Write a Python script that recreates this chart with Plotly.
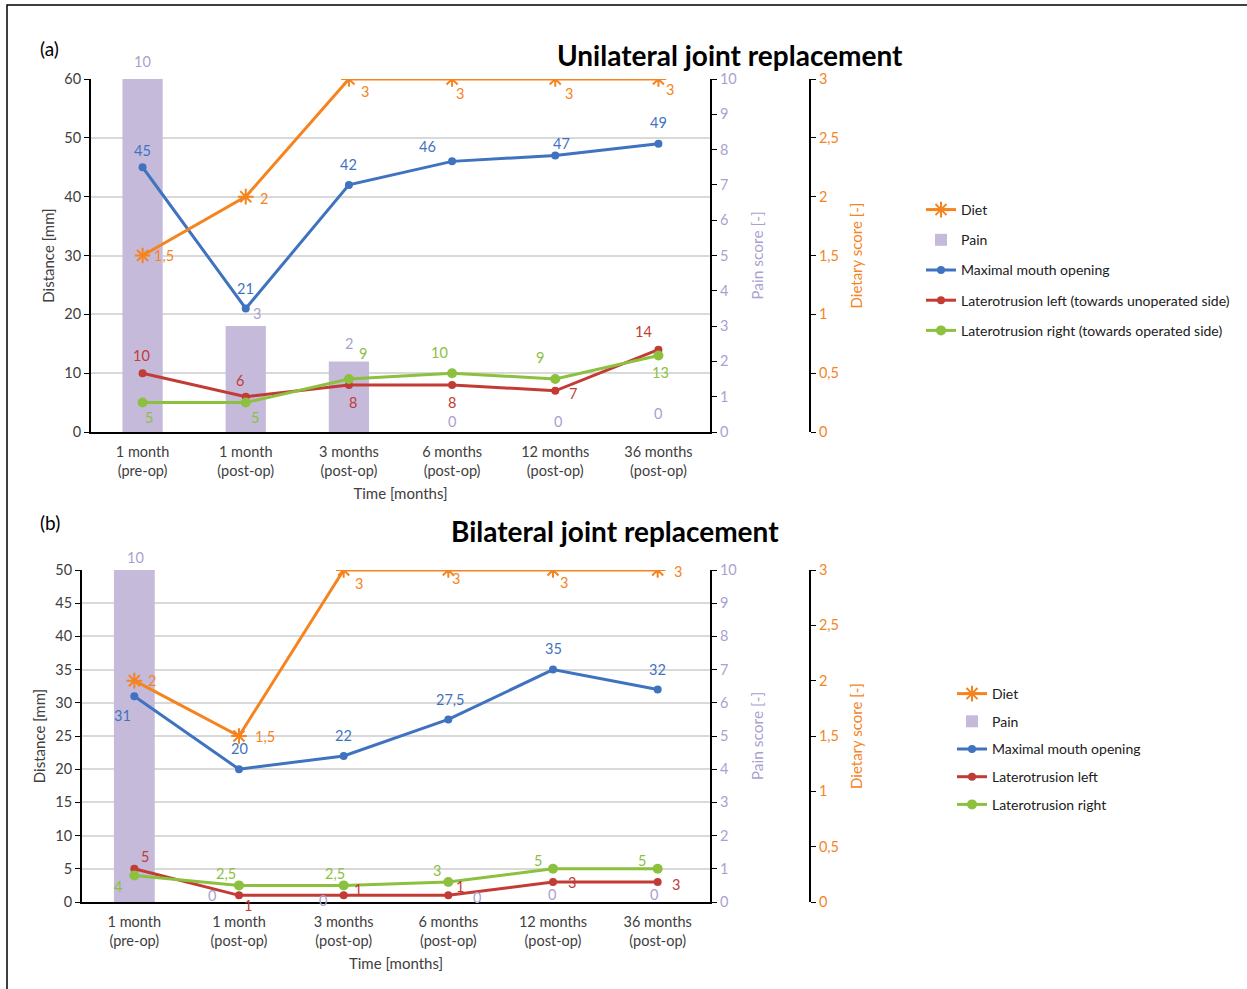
import plotly.graph_objects as go

W, H = 1247, 989

categories = ["1 month<br>(pre-op)", "1 month<br>(post-op)", "3 months<br>(post-op)",
              "6 months<br>(post-op)", "12 months<br>(post-op)", "36 months<br>(post-op)"]

# Panel (a) Unilateral
a_diet = [1.5, 2, 3, 3, 3, 3]
a_pain = [10, 3, 2, 0, 0, 0]
a_mmo = [45, 21, 42, 46, 47, 49]
a_left = [10, 6, 8, 8, 7, 14]
a_right = [5, 5, 9, 10, 9, 13]

# Panel (b) Bilateral
b_diet = [2, 1.5, 3, 3, 3, 3]
b_pain = [10, 0, 0, 0, 0, 0]
b_mmo = [31, 20, 22, 27.5, 35, 32]
b_left = [5, 1, 1, 1, 3, 3]
b_right = [4, 2.5, 2.5, 3, 5, 5]

a_names = ["Diet", "Pain", "Maximal mouth opening",
           "Laterotrusion left (towards unoperated side)",
           "Laterotrusion right (towards operated side)"]
b_names = ["Diet", "Pain", "Maximal mouth opening", "Laterotrusion left", "Laterotrusion right"]

ORANGE = "#f5841f"
PURPLE = "#c6badb"
PURPLE_TXT = "#ab9fd0"
BLUE = "#3f73c0"
RED = "#c23b35"
GREEN = "#8cc03f"
GREY = "#404040"
FONT = "Lato"
TICK = 14.5
LBL = 14.5
TTL = 15

# label offsets (pixels: dx, dy up)
a_off = {
    "diet": [(21, 0), (18, -2), (16, -13), (8, -15), (14, -15), (12, -11)],
    "pain": [(0, 17), (11, 13), (0, 18), (0, 11), (3, 11), (0, 19)],
    "mmo": [(0, 17), (0, 20), (0, 20), (-25, 15), (6, 12), (0, 21)],
    "left": [(-1, 18), (-6, 16), (4, -18), (0, -18), (18, -3), (-15, 18)],
    "right": [(6, -15), (9, -15), (14, 26), (-13, 21), (-15, 22), (2, -17)],
}
b_off = {
    "diet": [(18, 0), (26, 0), (15, -13), (8, -8), (11, -12), (20, -1)],
    "pain": [(1, 13), (-27, 7), (-21, 2), (29, 5), (-1, 8), (-4, 8)],
    "mmo": [(-12, -19), (0, 21), (0, 20), (2, 20), (0, 21), (0, 20)],
    "left": [(11, 12), (9, -10), (14, 6), (12, 9), (19, 0), (18, -2)],
    "right": [(-16, -11), (-13, 12), (-9, 12), (-11, 12), (-15, 8), (-16, 8)],
}


def px(x):
    return x / W


def py(y):
    return 1 - y / H


fig = go.Figure()
annotations = []


def fmt(v):
    s = ("%g" % v)
    return s.replace(".", ",")


def panel(idx, diet, pain, mmo, left, right, names, off, xdom, ydom, dist_max, dist_dtick, legend_id):
    xa = "x" if idx == 0 else "x2"
    yp = "y" if idx == 0 else "y4"
    yd = "y2" if idx == 0 else "y5"
    yt = "y3" if idx == 0 else "y6"
    lg = legend_id
    fig.add_trace(go.Bar(x=categories, y=pain, xaxis=xa, yaxis=yp, name=names[1],
                         marker=dict(color=PURPLE, line=dict(width=0)), width=0.39,
                         legend=lg, legendgroup=lg + "p", legendrank=2))
    fig.add_trace(go.Scatter(x=categories, y=mmo, xaxis=xa, yaxis=yd, name=names[2],
                             mode="lines+markers", line=dict(color=BLUE, width=3),
                             marker=dict(size=8, color=BLUE), legend=lg,
                             legendgroup=lg + "m", legendrank=3))
    fig.add_trace(go.Scatter(x=categories, y=left, xaxis=xa, yaxis=yd, name=names[3],
                             mode="lines+markers", line=dict(color=RED, width=3),
                             marker=dict(size=8, color=RED), legend=lg,
                             legendgroup=lg + "l", legendrank=4))
    fig.add_trace(go.Scatter(x=categories, y=right, xaxis=xa, yaxis=yd, name=names[4],
                             mode="lines+markers", line=dict(color=GREEN, width=3),
                             marker=dict(size=10, color=GREEN), legend=lg,
                             legendgroup=lg + "r", legendrank=5))
    fig.add_trace(go.Scatter(x=categories, y=diet, xaxis=xa, yaxis=yt, name=names[0],
                             mode="lines+markers", line=dict(color=ORANGE, width=3),
                             marker=dict(size=13, color=ORANGE, symbol="asterisk-open",
                                         line=dict(color=ORANGE, width=2)),
                             legend=lg, legendgroup=lg + "d", legendrank=1))

    series = [("diet", diet, yt, ORANGE), ("pain", pain, yp, PURPLE_TXT), ("mmo", mmo, yd, BLUE),
              ("left", left, yd, RED), ("right", right, yd, GREEN)]
    for key, vals, yref, col in series:
        for i, v in enumerate(vals):
            dx, dy = off[key][i]
            annotations.append(dict(x=categories[i], y=v, xref=xa, yref=yref, text=fmt(v),
                                    showarrow=False, xshift=dx, yshift=dy,
                                    font=dict(family=FONT, size=LBL, color=col)))

    axis_suffix = "" if idx == 0 else "2"
    fig.update_layout(**{
        "xaxis" + axis_suffix: dict(domain=xdom, anchor=yp, type="category",
                                    showline=True, linecolor="black", linewidth=2,
                                    ticks="", showgrid=False, ticklabelstandoff=6,
                                    tickfont=dict(family=FONT, size=TICK, color=GREY),
                                    title=dict(text="Time [months]", standoff=10,
                                               font=dict(family=FONT, size=TTL, color=GREY))),
        ("yaxis" if idx == 0 else "yaxis4"): dict(domain=ydom, anchor=xa, side="right",
                                                 range=[0, 10], dtick=1, showgrid=False,
                                                 showline=True, linecolor="black", linewidth=2,
                                                 ticks="outside", ticklen=5, tickcolor="black",
                                                 zeroline=False,
                                                 tickfont=dict(family=FONT, size=TICK, color=PURPLE_TXT),
                                                 title=dict(text="Pain score [-]", standoff=16,
                                                            font=dict(family=FONT, size=TTL + 0.5, color=PURPLE_TXT))),
        ("yaxis2" if idx == 0 else "yaxis5"): dict(overlaying=yp, anchor=xa, side="left",
                                                  range=[0, dist_max], dtick=dist_dtick,
                                                  showgrid=True, gridcolor="#d9d9d9", gridwidth=1.5,
                                                  showline=True, linecolor="black", linewidth=2,
                                                  ticks="outside", ticklen=5, tickcolor="black",
                                                  zeroline=False,
                                                  tickfont=dict(family=FONT, size=TICK, color=GREY),
                                                  title=dict(text="Distance [mm]", standoff=6,
                                                             font=dict(family=FONT, size=TTL, color=GREY))),
        ("yaxis3" if idx == 0 else "yaxis6"): dict(overlaying=yp, anchor="free", side="right",
                                                  position=px(810), range=[0, 3], dtick=0.5,
                                                  showgrid=False, zeroline=False,
                                                  showline=True, linecolor="black", linewidth=2,
                                                  ticks="outside", ticklen=5, tickcolor="black",
                                                  tickfont=dict(family=FONT, size=TICK, color=ORANGE),
                                                  title=dict(text="Dietary score [-]", standoff=12,
                                                             font=dict(family=FONT, size=TTL, color=ORANGE))),
    })


panel(0, a_diet, a_pain, a_mmo, a_left, a_right, a_names, a_off,
      [px(91), px(710)], [py(432), py(79)], 60, 10, "legend")
panel(1, b_diet, b_pain, b_mmo, b_left, b_right, b_names, b_off,
      [px(82), px(710)], [py(902), py(570)], 50, 5, "legend2")

annotations += [
    dict(x=px(730), y=py(36), xref="paper", yref="paper", text="<b>Unilateral joint replacement</b>",
         showarrow=False, font=dict(family=FONT, size=28, color="black")),
    dict(x=px(615), y=py(531), xref="paper", yref="paper", text="<b>Bilateral joint replacement</b>",
         showarrow=False, font=dict(family=FONT, size=28, color="black")),
    dict(x=px(38), y=py(35), xref="paper", yref="paper", text="(a)",
         showarrow=False, font=dict(family=FONT, size=19, color="black")),
    dict(x=px(38), y=py(522), xref="paper", yref="paper", text="(b)",
         showarrow=False, font=dict(family=FONT, size=19, color="black")),
]

fig.update_layout(
    width=W, height=H, margin=dict(l=0, r=0, t=0, b=0),
    template="none", paper_bgcolor="white", plot_bgcolor="rgba(0,0,0,0)",
    separators=", ", barmode="overlay",
    annotations=annotations,
    legend=dict(x=px(921), y=py(194), xanchor="left", yanchor="top",
                font=dict(family=FONT, size=14, color="#202020"),
                traceorder="grouped", tracegroupgap=9, bgcolor="rgba(0,0,0,0)"),
    legend2=dict(x=px(952), y=py(678), xanchor="left", yanchor="top",
                 font=dict(family=FONT, size=14, color="#202020"),
                 traceorder="grouped", tracegroupgap=6.5, bgcolor="rgba(0,0,0,0)"),
    shapes=[dict(type="rect", xref="paper", yref="paper", x0=px(7), x1=1.01, y0=-0.01, y1=py(5),
                 line=dict(color="black", width=1.5), fillcolor="rgba(0,0,0,0)", layer="below")],
)

fig.write_html("out.html", config={"displayModeBar": False},
               post_script="document.body.style.margin='0px';document.body.style.overflow='hidden';")
